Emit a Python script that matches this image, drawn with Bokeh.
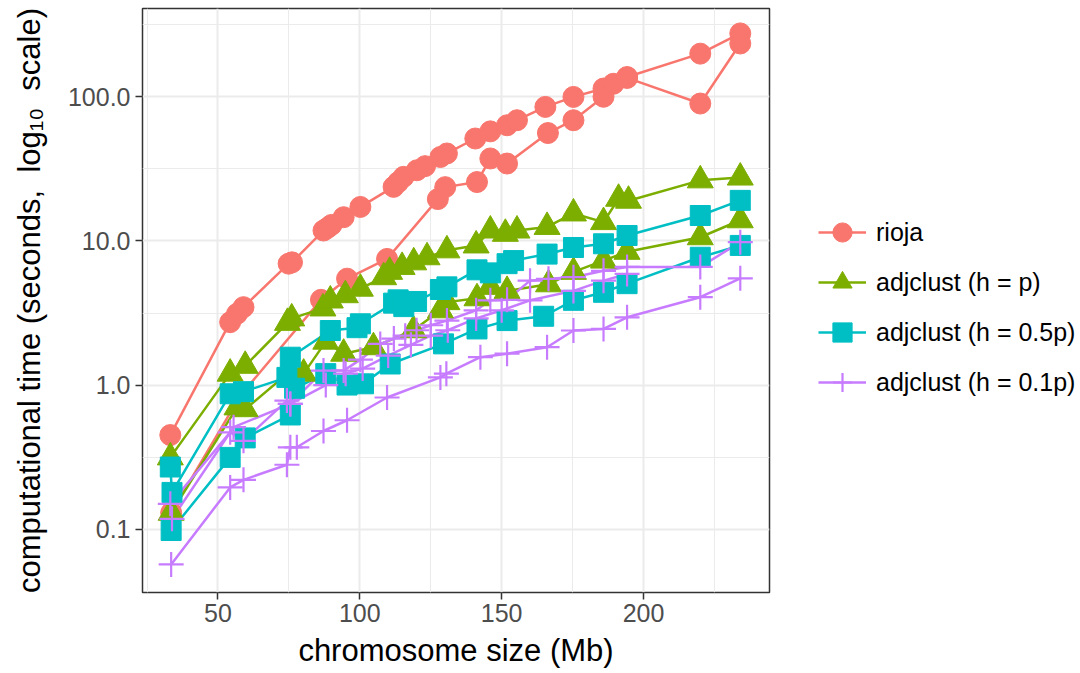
from bokeh.plotting import figure
from bokeh.models import FixedTicker, CustomJSTickFormatter, Legend, LegendItem, Range1d
from bokeh.embed import file_html
from bokeh.resources import INLINE

# ---------------- data ----------------
methods = ["rioja", "adjclust (h = p)", "adjclust (h = 0.5p)", "adjclust (h = 0.1p)"]
colors = ["#F8766D", "#7CAE00", "#00BFC4", "#C77CFF"]
markers = ["circle", "triangle", "square", "cross"]

rioja_a_x = [33.2, 54.3, 56.7, 59.0, 74.9, 76.1, 87.2, 88.6, 90.0, 94.3, 100.2, 111.9, 113.5, 115.4, 120.1,
             123.0, 128.4, 130.7, 140.7, 146.0, 151.9, 155.4, 165.4, 175.3, 185.9, 189.4, 194.2, 220.0, 234.1]
rioja_a_y = [0.45, 2.73, 3.12, 3.47, 6.95, 7.1, 11.8, 12.3, 12.9, 14.6, 17.2, 23.7, 25.5, 27.8, 30.9,
             33.0, 38.2, 40.4, 51.3, 57.5, 63.4, 68.7, 85.0, 99.7, 114.0, 123.0, 137.0, 199.0, 275.0]
rioja_b_x = [33.5, 58.0, 86.3, 95.5, 109.6, 127.5, 130.1, 141.3, 146.0, 151.9, 166.3, 175.3, 185.9,
             194.2, 220.0, 234.1]
rioja_b_y = [0.13, 0.85, 3.9, 5.47, 7.5, 19.5, 23.6, 25.6, 37.3, 34.4, 56.0, 68.7, 100.0,
             135.0, 89.7, 234.0]

green_a_x = [33.2, 54.3, 59.6, 74.5, 76.0, 87.0, 89.6, 94.9, 100.2, 108.4, 110.5, 114.9, 119.0, 123.7,
             130.7, 141.0, 146.0, 151.3, 155.4, 166.0, 175.3, 185.9, 191.2, 194.7, 220.0, 234.1]
green_a_y = [0.315, 1.2, 1.36, 2.7, 2.9, 3.4, 3.86, 4.2, 4.66, 5.6, 6.1, 6.6, 7.1, 7.7,
             8.6, 9.3, 11.8, 11.2, 11.8, 12.5, 15.5, 13.5, 19.6, 19.0, 26.3, 27.5]
green_b_x = [33.5, 56.7, 59.6, 75.5, 80.2, 88.0, 94.3, 104.8, 118.9, 128.4, 130.7, 141.3, 146.0, 151.9,
             166.5, 175.3, 185.9, 194.2, 220.0, 234.1]
green_b_y = [0.13, 0.70, 0.68, 1.25, 1.2, 2.0, 1.65, 1.83, 2.4, 3.3, 3.76, 4.0, 4.8, 4.5,
             5.0, 6.1, 7.3, 8.4, 10.6, 13.9]

cyan_a_x = [33.2, 33.8, 54.3, 59.0, 74.3, 75.5, 89.6, 99.0, 100.2, 111.9, 113.5, 115.5, 120.0, 128.4,
            130.7, 141.3, 146.0, 151.9, 154.2, 166.0, 175.3, 185.9, 194.2, 220.0, 234.1]
cyan_a_y = [0.27, 0.18, 0.87, 0.9, 1.13, 1.56, 2.39, 2.5, 2.66, 3.7, 3.9, 3.5, 3.8, 4.6,
            4.8, 6.3, 6.0, 6.95, 7.3, 8.1, 9.0, 9.55, 10.9, 15.0, 19.1]
cyan_b_x = [33.5, 54.3, 59.6, 75.5, 77.0, 88.0, 95.5, 101.3, 110.7, 129.5, 141.3, 151.9, 164.8, 175.3,
            185.9, 194.2, 220.0, 234.1]
cyan_b_y = [0.098, 0.315, 0.43, 0.62, 0.95, 1.2, 1.0, 1.02, 1.4, 1.93, 2.45, 2.8, 3.0, 3.87,
            4.4, 5.05, 7.7, 9.3]

purple_a_x = [33.2, 54.3, 59.0, 74.3, 75.5, 87.2, 94.3, 100.2, 107.2, 112.0, 116.0, 120.0, 125.0, 130.7,
              141.0, 146.0, 151.9, 160.0, 166.5, 175.3, 185.9, 194.2, 220.0, 234.1]
purple_a_y = [0.15, 0.47, 0.41, 0.78, 0.74, 1.26, 1.26, 1.5, 1.93, 2.1, 2.2, 2.4, 2.6, 2.8,
              3.3, 3.87, 3.9, 5.3, 5.46, 5.6, 6.2, 6.6, 6.6, 9.8]
purple_b_x = [33.5, 54.3, 59.0, 74.3, 75.5, 77.8, 87.2, 95.5, 109.6, 128.4, 130.5, 142.5, 151.9, 166.0,
              175.3, 185.9, 194.2, 220.0, 234.1]
purple_b_y = [0.057, 0.195, 0.22, 0.28, 0.37, 0.37, 0.48, 0.57, 0.82, 1.13, 1.2, 1.56, 1.65, 1.83,
              2.39, 2.45, 2.95, 4.07, 5.5]
purple_c_x = [33.8, 55.5, 75.5, 88.0, 95.0, 101.0, 110.0, 118.0, 125.0, 131.0, 141.0, 150.0, 160.0,
              175.3, 185.9, 194.2]
purple_c_y = [0.118, 0.51, 0.74, 1.0, 1.2, 1.3, 1.6, 1.9, 2.2, 2.4, 2.9, 3.3, 3.87,
              4.5, 5.3, 5.9]

series = [
    [(rioja_a_x, rioja_a_y), (rioja_b_x, rioja_b_y)],
    [(green_a_x, green_a_y), (green_b_x, green_b_y)],
    [(cyan_a_x, cyan_a_y), (cyan_b_x, cyan_b_y)],
    [(purple_a_x, purple_a_y), (purple_b_x, purple_b_y), (purple_c_x, purple_c_y)],
]

x_ticks = [50, 100, 150, 200]
x_minor = [25, 75, 125, 175, 225]
y_ticks = [0.1, 1, 10, 100]
y_minor = [0.316, 3.16, 31.6, 316]

FONT = "Liberation Sans"

p = figure(frame_width=627, frame_height=584,
           x_range=Range1d(23.4, 244.4), y_range=Range1d(10 ** -1.439, 10 ** 2.612),
           y_axis_type="log", output_backend="svg", toolbar_location=None,
           min_border_left=142, min_border_top=8, min_border_bottom=72, min_border_right=303,
           background_fill_color="white", border_fill_color="white")

p.outline_line_color = "#333333"
p.outline_line_width = 1.5

p.xaxis.ticker = FixedTicker(ticks=x_ticks, minor_ticks=x_minor)
p.yaxis.ticker = FixedTicker(ticks=y_ticks, minor_ticks=y_minor)
p.xgrid.ticker = FixedTicker(ticks=x_ticks, minor_ticks=x_minor)
p.ygrid.ticker = FixedTicker(ticks=y_ticks, minor_ticks=y_minor)
p.yaxis.formatter = CustomJSTickFormatter(code="return tick.toFixed(1);")

p.grid.grid_line_color = "#EBEBEB"
p.grid.grid_line_width = 2
p.grid.minor_grid_line_color = "#EBEBEB"
p.grid.minor_grid_line_width = 1

p.axis.axis_line_color = None
p.axis.minor_tick_line_color = None
p.axis.major_tick_line_color = "#333333"
p.axis.major_tick_line_width = 1.5
p.axis.major_tick_out = 7
p.axis.major_tick_in = 0
p.axis.major_label_text_font = FONT
p.axis.major_label_text_font_size = "25px"
p.axis.major_label_text_color = "#4D4D4D"
p.axis.axis_label_text_font = FONT
p.axis.axis_label_text_font_size = "31px"
p.axis.axis_label_text_font_style = "normal"
p.axis.axis_label_text_color = "black"
p.xaxis.major_label_standoff = 4
p.yaxis.major_label_standoff = 5
p.xaxis.axis_label_standoff = 8
p.yaxis.axis_label_standoff = 18
p.xaxis.axis_label = "chromosome size (Mb)"
p.yaxis.axis_label = "computational time (seconds,\u00a0 log\u2081\u2080\u00a0 scale)"

line_renderers = []
for (lines, col) in zip(series, colors):
    rs = []
    for xs, ys in lines:
        rs.append(p.line(xs, ys, line_color=col, line_width=2.5))
    line_renderers.append(rs)

sizes = {"circle": 21, "triangle": 26, "square": 20, "cross": 25}
point_renderers = []
for (lines, col, mk) in zip(series, colors, markers):
    rs = []
    for xs, ys in lines:
        if mk == "cross":
            rs.append(p.scatter(xs, ys, marker=mk, size=sizes[mk], line_color=col, line_width=2.2))
        else:
            rs.append(p.scatter(xs, ys, marker=mk, size=sizes[mk], fill_color=col, line_color=col,
                                line_width=1))
    point_renderers.append(rs)

items = [LegendItem(label=m, renderers=[lr[0], pr[0]])
         for m, lr, pr in zip(methods, line_renderers, point_renderers)]
legend = Legend(items=items, location=(49, 185), margin=0, padding=10, spacing=0,
                glyph_width=48, glyph_height=50, label_standoff=10,
                label_text_font=FONT, label_text_font_size="25px", label_text_color="black",
                border_line_color=None, background_fill_alpha=0)
p.add_layout(legend, "right")

open("out.html", "w").write(file_html(p, INLINE))
